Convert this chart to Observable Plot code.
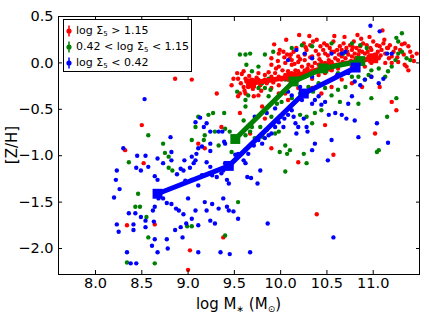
<!DOCTYPE html>
<html><head><meta charset="utf-8">
<script src="https://cdn.jsdelivr.net/npm/d3@7"></script>
<script src="https://cdn.jsdelivr.net/npm/@observablehq/plot@0.6"></script>
<style>
body{margin:0;background:#fff;}
#wrap{position:relative;width:429px;height:322px;font-family:"DejaVu Sans",sans-serif;color:#000;overflow:hidden;}
#wrap svg{display:block;}
.legend{position:absolute;left:63px;top:19px;width:129px;height:53px;border:1px solid #000;background:#fff;font-size:11px;box-sizing:border-box;}
.row{position:absolute;left:0;height:16px;line-height:16px;white-space:nowrap;}
.row svg{position:absolute;left:1px;top:2px;}
.row span{position:absolute;left:12px;top:0;}
.row sub{font-size:7px;vertical-align:-2px;}
.xlab{position:absolute;left:58px;width:361px;top:295px;text-align:center;font-size:15px;}
.xlab sub{font-size:9px;vertical-align:-3px;}
.ylab{position:absolute;left:12px;top:145px;font-size:15px;transform:translate(-50%,-50%) rotate(-90deg);white-space:nowrap;}
</style></head><body><div id="wrap"></div>
<script>
const xTicks=[8.0,8.5,9.0,9.5,10.0,10.5,11.0];
const yTicks=[-2.0,-1.5,-1.0,-0.5,0.0,0.5];
const seriesNames=["log Σ5 > 1.15","0.42 < log Σ5 < 1.15","log Σ5 < 0.42"];
const seriesColors=["#ff0000","#008000","#0000ff"];

const redLine=[[9.68,-0.22],[10.12,-0.15],[10.52,-0.04],[11.00,0.05]];
const greenLine=[[9.51,-0.82],[10.14,-0.20],[10.46,-0.06],[10.86,0.02]];
const blueLine=[[8.67,-1.41],[9.44,-1.11],[10.25,-0.33],[10.81,-0.05]];

const redPoints=[[8.86,-0.17],[9.04,-0.18],[8.50,-0.67],[8.52,-1.08],[8.32,-0.94],[8.34,-1.75],[8.64,-1.74],[9.38,-1.88],[9.02,-2.02],[9.00,-2.23],[9.18,-0.92],[9.11,-0.87],[9.36,-0.69],[9.31,-0.33],[9.54,-0.36],[9.56,-0.54],[9.67,-0.76],[9.80,-0.47],[9.83,-0.60],[9.90,-0.92],[10.19,-1.07],[10.39,-1.63],[10.57,-0.99],[11.02,-0.76],[11.20,-0.42],[11.25,-0.51],[11.07,-0.26],[11.34,0.21],[11.36,-0.04],[11.42,0.07],[11.47,0.10],[11.38,-0.08],[10.08,-0.40],[9.98,-0.33],[10.48,-0.67],
[9.54,-0.17],[9.57,-0.22],[9.60,-0.26],[9.62,-0.17],[9.63,-0.20],[9.65,-0.26],[9.67,-0.22],[9.69,-0.18],[9.72,-0.22],[9.76,-0.18],[9.78,-0.24],[9.81,-0.20],[9.85,-0.22],[9.89,-0.18],[9.90,-0.15],[9.94,-0.11],[9.98,-0.15],[10.01,-0.18],[10.05,-0.13],[10.08,-0.09],[10.12,-0.11],[10.16,-0.08],[10.19,-0.09],[10.23,-0.04],[10.26,-0.08],[10.30,-0.02],[10.34,-0.04],[10.37,0.00],[10.41,-0.02],[10.44,0.01],[10.48,0.00],[10.52,0.03],[10.55,0.01],[10.59,0.05],[10.62,0.03],[10.66,0.07],[10.70,0.05],[10.73,0.09],[10.77,0.07],[10.80,0.10],[10.84,0.09],[10.88,0.12],[10.91,0.10],[10.95,0.07],[10.98,0.14],[11.02,0.09],[11.06,0.05],[11.09,0.14],[11.13,0.10],[11.16,0.16],[11.20,0.07],
[9.90,0.05],[9.98,0.10],[9.99,0.14],[10.03,0.12],[10.07,0.09],[10.10,0.05],[10.14,0.12],[10.17,0.16],[10.25,0.21],[10.28,0.14],[10.32,0.19],[10.35,0.23],[10.39,0.25],[10.43,0.18],[10.46,0.14],[10.50,0.19],[10.53,0.16],[10.57,0.23],[10.61,0.14],[10.64,0.18],[10.68,0.21],[10.71,0.16],[10.75,0.19],[10.79,0.23],[10.82,0.16],[10.86,0.18],[10.89,0.21],[10.93,0.19],[10.97,0.16],[11.00,0.23],[11.04,0.19],[11.07,0.18],[11.11,0.21],[11.15,0.16],[11.18,0.19],[11.24,0.16],[11.29,0.14],[11.33,0.09],[11.38,0.18],[10.12,0.03],[10.19,0.01],[10.26,0.03],[10.34,0.07],[10.41,0.09],[10.48,0.10],[10.55,0.12],[10.66,0.14],[10.77,0.14],[9.90,-0.02],[9.98,-0.04],[10.05,0.00],[10.12,-0.02],[10.19,0.07],[10.26,0.09],
[10.12,-0.22],[10.19,-0.18],[10.26,-0.15],[10.34,-0.17],[10.41,-0.13],[10.48,-0.11],[10.55,-0.08],[10.62,-0.06],[10.70,-0.11],[10.77,-0.04],[10.84,-0.02],[10.91,-0.04],[10.98,0.00],[9.83,-0.13],[9.76,-0.11],[9.90,-0.27],[9.98,-0.24],[10.05,-0.33],[10.19,-0.27],[10.34,-0.27],[10.44,-0.33],[10.55,-0.26],[10.66,-0.18],[10.77,-0.22],[10.88,-0.26],[10.98,-0.15],[11.13,0.00],[11.20,0.00],[11.27,0.01],[11.34,-0.02],[9.62,-0.33],[9.56,-0.33],[9.71,-0.36],[9.49,-0.17],[9.47,-0.24],[9.53,-0.11],[9.60,-0.09],[9.76,-0.35],
[9.58,-0.12],[9.61,-0.30],[9.66,-0.14],[9.70,-0.28],[9.74,-0.16],[9.79,-0.30],[9.83,-0.18],[9.87,-0.10],[9.92,-0.21],[9.95,-0.06],[9.97,0.02],[10.02,-0.08],[10.04,0.06],[10.09,-0.16],[10.11,0.09],[10.15,-0.01],[10.18,-0.19],[10.21,0.04],[10.24,-0.12],[10.27,0.17],[10.29,-0.06],[10.32,0.06],[10.36,-0.10],[10.38,0.13],[10.42,0.04],[10.45,-0.06],[10.47,0.21],[10.51,0.08],[10.54,-0.02],[10.58,0.12],[10.60,-0.15],[10.63,0.09],[10.67,0.01],[10.69,0.28],[10.72,0.12],[10.76,0.02],[10.78,0.17],[10.81,0.05],[10.85,0.13],[10.87,0.26],[10.90,0.03],[10.94,0.12],[10.96,0.28],[11.01,0.04],[11.05,0.12],[11.08,0.08],[11.12,0.25],[11.17,0.05],[11.22,0.12],[11.26,0.06],[11.31,0.20],[11.40,0.12],[11.44,0.02],[9.93,0.20],[10.06,0.25],[10.20,0.30],[10.31,0.29],[10.58,0.29],[10.83,0.30],[11.10,0.35]];

const greenPoints=[[8.57,-0.78],[8.46,-1.41],[8.36,-1.07],[8.43,-1.55],[8.48,-1.55],[8.55,-1.66],[8.57,-1.88],[8.64,-2.16],[8.34,-2.15],[8.73,-0.87],[8.75,-0.97],[8.79,-1.13],[8.83,-1.16],[8.79,-1.01],[9.04,-0.83],[9.08,-0.69],[9.11,-0.58],[9.18,-0.78],[9.22,-0.56],[9.27,-0.54],[9.17,-0.83],[9.29,-0.74],[9.33,-0.89],[9.40,-0.71],[9.45,-0.74],[9.39,-0.54],[9.53,-0.31],[9.56,0.09],[9.62,0.09],[9.67,0.10],[9.63,-0.02],[9.69,-0.09],[9.76,-0.04],[9.80,-0.22],[9.76,-0.27],[9.83,-0.27],[9.89,-0.29],[9.87,-0.36],[9.62,-0.40],[9.65,-0.35],[9.62,-0.47],[9.60,-0.62],[9.62,-0.78],[9.67,-0.74],[9.69,-0.69],[9.72,-0.81],[9.78,-0.69],[9.81,-0.80],[9.90,-0.58],[9.94,-0.76],[9.98,-0.74],[9.99,-0.96],[10.05,-0.89],[10.07,-0.98],[10.10,-0.94],[10.25,-0.98],[10.28,-1.08],[10.05,-1.17],[9.54,-1.50],[9.40,-1.86],[9.04,-1.76],[8.99,-1.76],[9.47,-0.96],
[9.96,-0.44],[10.01,-0.42],[10.12,-0.38],[10.21,-0.33],[10.30,-0.26],[10.35,-0.31],[10.41,-0.22],[10.48,-0.27],[10.55,-0.35],[10.62,-0.29],[10.70,-0.26],[10.77,-0.15],[10.84,-0.15],[10.91,-0.18],[10.95,-0.13],[10.98,-0.08],[11.06,-0.06],[11.13,-0.15],[11.16,-0.09],[11.20,-0.04],[11.24,0.03],[11.27,0.10],[11.31,0.12],[11.36,0.05],[11.40,0.03],[11.25,0.27],[11.27,0.23],[11.31,0.32],[11.06,-0.94],[11.04,-0.96],[11.15,-0.58],[11.25,-0.38],[10.21,-0.56],[10.28,-0.58],[10.34,-0.65],[10.37,-0.54],[10.44,-0.51],[10.64,-0.42],[10.84,-0.44],[10.98,-0.38],[9.83,0.09],[9.92,0.12],[10.12,0.16],[10.23,0.19],[10.34,0.18],[10.55,0.21],[10.77,0.21],[10.86,0.19],[10.93,0.16],[10.68,0.10],[10.62,-0.11],[10.34,-0.09],[10.19,-0.13],[10.05,-0.18],[9.87,-0.17]];

const bluePoints=[[8.53,-0.39],[8.30,-0.92],[8.23,-1.16],[8.22,-1.26],[8.26,-1.36],[8.20,-1.45],[8.45,-1.00],[8.49,-1.16],[8.54,-1.00],[8.44,-1.13],[8.57,-1.12],[8.64,-1.22],[8.67,-1.26],[8.81,-0.80],[8.82,-0.96],[8.82,-1.05],[8.67,-1.03],[8.73,-1.08],[8.88,-1.20],[8.92,-1.14],[8.96,-1.05],[8.95,-1.16],[8.97,-1.27],[9.02,-1.13],[9.06,-1.08],[9.08,-1.05],[9.04,-1.26],[9.11,-1.32],[9.15,-1.21],[9.20,-1.07],[9.24,-1.12],[9.26,-1.21],[9.31,-1.23],[9.36,-1.19],[9.38,-1.16],[9.40,-1.08],[9.42,-1.26],[9.44,-1.30],[9.51,-0.99],[9.54,-0.98],[9.60,-1.05],[9.62,-1.08],[9.64,-1.23],[9.68,-1.24],[9.75,-1.30],[9.78,-1.16],
[8.36,-1.62],[8.43,-1.62],[8.49,-1.66],[8.54,-1.70],[8.62,-1.59],[8.63,-1.71],[8.64,-1.55],[8.68,-1.46],[8.73,-1.46],[8.77,-1.51],[8.82,-1.52],[8.87,-1.57],[8.90,-1.59],[8.95,-1.63],[9.00,-1.46],[9.04,-1.68],[9.08,-1.59],[9.11,-1.75],[9.18,-1.50],[9.20,-1.59],[9.26,-1.52],[9.29,-1.73],[9.33,-1.57],[9.38,-1.46],[9.42,-1.55],[9.44,-1.59],[9.49,-1.60],[9.54,-1.68],[9.24,-1.70],[8.92,-1.77],[8.98,-1.73],[8.94,-1.88],[8.86,-1.80],[8.77,-1.90],[8.64,-1.90],[8.61,-1.97],[8.54,-1.77],[8.41,-1.74],[8.41,-1.80],[8.23,-1.74],[8.25,-1.82],[8.34,-2.04],[8.44,-2.16],[8.38,-2.16],[8.67,-2.04],[8.78,-2.00],[9.11,-2.04],[9.35,-2.04],[9.45,-2.06],[9.67,-2.04],[9.86,-1.73],[10.57,-1.88],
[9.08,-0.64],[9.13,-0.59],[9.17,-0.69],[9.20,-0.65],[9.24,-0.74],[9.33,-0.74],[9.37,-0.74],[9.39,-0.85],[9.24,-0.87],[9.15,-0.90],[9.11,-0.92],[9.09,-0.98],[9.04,-1.01],[9.24,-0.95],[9.40,-0.87],[9.62,-0.94],[9.65,-0.98],[9.71,-0.89],[9.76,-0.83],[9.80,-0.87],[9.83,-0.81],[9.85,-0.72],[9.87,-0.78],[9.90,-0.76],[9.94,-0.69],[9.98,-0.64],[10.00,-0.58],[10.03,-0.69],[10.04,-0.60],[10.08,-0.56],[10.12,-0.51],[10.14,-0.58],[10.16,-0.65],[10.17,-0.76],[10.19,-0.69],[10.25,-0.60],[10.28,-0.69],[10.29,-0.74],[10.34,-0.44],[10.37,-0.40],[10.41,-0.36],[10.44,-0.45],[10.48,-0.42],[10.52,-0.56],[10.59,-0.54],[10.66,-0.56],[10.73,-0.44],[10.77,-0.36],[10.80,-0.20],[10.86,-0.24],[10.91,-0.18],[10.98,-0.15],[11.06,-0.22],[11.11,-0.17],[11.15,0.10],[11.20,0.10],[11.07,0.34],[10.97,0.40],[10.66,0.10],[10.70,0.12],[10.55,0.10],[10.26,0.10],[10.34,0.05],[10.17,0.14],[10.08,0.03],[10.34,-0.94],[10.37,-0.87],[10.55,-0.83],[10.51,-1.05],[11.04,-0.65],[11.16,-0.86],[10.84,-0.80],[10.80,-0.62],[10.71,-0.60],[10.23,-0.40],[10.12,-0.35],[9.94,-0.49],[9.85,-0.54],[9.72,-0.58],[10.48,-0.08],[10.61,-0.13],[10.73,-0.11],[10.34,-0.15],[10.21,-0.26],[10.08,-0.31]];

const fmt=d=>(d<0?"\u2212":"")+Math.abs(d).toFixed(1);
const X=d=>d[0], Y=d=>d[1];
const pointSets=[redPoints,greenPoints,bluePoints];
const lineSets=[redLine,greenLine,blueLine];

const marks=[];
pointSets.forEach((pts,i)=>marks.push(Plot.dot(pts,{x:X,y:Y,r:2.2,fill:seriesColors[i]})));
lineSets.forEach((ln,i)=>{
  marks.push(Plot.line(ln,{x:X,y:Y,stroke:seriesColors[i],strokeWidth:5}));
  marks.push(Plot.dot(ln,{x:X,y:Y,symbol:"square",r:5.6,fill:seriesColors[i]}));
});
marks.push(Plot.frame({stroke:"#000",strokeWidth:1}));
marks.push(Plot.axisX({ticks:xTicks,anchor:"bottom",tickSize:-4,tickPadding:7,tickFormat:d=>d.toFixed(1),label:null,fontSize:14.5}));
marks.push(Plot.axisX({ticks:xTicks,anchor:"top",tickSize:-4,tickFormat:()=>"",label:null}));
marks.push(Plot.axisY({ticks:yTicks,anchor:"left",tickSize:-4,tickPadding:9,tickFormat:fmt,label:null,fontSize:14.5}));
marks.push(Plot.axisY({ticks:yTicks,anchor:"right",tickSize:-4,tickFormat:()=>"",label:null}));

const chart=Plot.plot({
  width:429,height:322,marginLeft:58,marginRight:10,marginTop:16,marginBottom:48,
  style:{fontFamily:"DejaVu Sans",fontSize:"14px",background:"transparent",color:"#000"},
  x:{domain:[7.6,11.5]},y:{domain:[-2.28,0.5]},
  marks
});
const wrap=document.getElementById("wrap");
wrap.appendChild(chart);

const leg=document.createElement("div");leg.className="legend";
seriesNames.forEach((name,i)=>{
  const row=document.createElement("div");row.className="row";row.style.top=(3+16*i)+"px";
  const c=seriesColors[i];
  const parts=name.split("Σ5");
  row.innerHTML=`<svg width="8" height="12"><line x1="4" y1="0.5" x2="4" y2="11.5" stroke="${c}" stroke-width="1.5"/><circle cx="4" cy="6" r="2.6" fill="${c}"/></svg><span>${parts[0]}Σ<sub>5</sub>${parts[1]}</span>`;
  leg.appendChild(row);
});
wrap.appendChild(leg);
const xl=document.createElement("div");xl.className="xlab";xl.innerHTML="log M<sub>∗</sub> (M<sub>⊙</sub>)";wrap.appendChild(xl);
const yl=document.createElement("div");yl.className="ylab";yl.textContent="[Z/H]";wrap.appendChild(yl);
</script></body></html>
